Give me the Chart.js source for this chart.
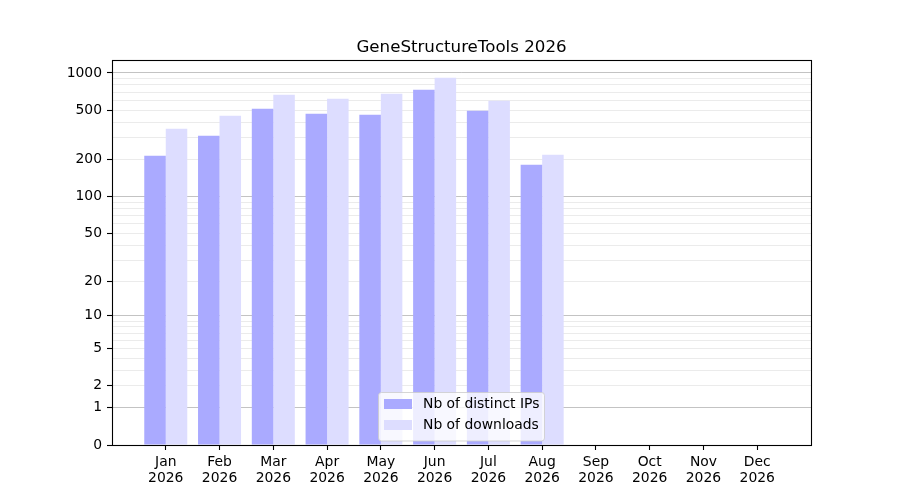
<!DOCTYPE html>
<html>
<head>
<meta charset="utf-8">
<script src="https://cdn.jsdelivr.net/npm/chart.js@4.4.1/dist/chart.umd.min.js"></script>
<style>
html,body{margin:0;padding:0;background:#fff;}
#wrap{width:900px;height:500px;}
</style>
</head>
<body>
<div id="wrap"><canvas id="c" width="900" height="500"></canvas></div>
<script>
// ---- data ----
const months = ['Jan','Feb','Mar','Apr','May','Jun','Jul','Aug','Sep','Oct','Nov','Dec'];
const year = '2026';
const distinctIPs = [214, 311, 514, 468, 460, 732, 495, 181];
const downloads   = [354, 451, 667, 619, 680, 915, 597, 218];
const yTickLabels = [0, 1, 2, 5, 10, 20, 50, 100, 200, 500, 1000];
const yMajorGrid  = [1, 10, 100, 1000];
const yMinorMultipliers = [2, 3, 4, 5, 6, 7, 8, 9];
const yMinorDecades = [1, 10, 100];
const yMax = 1273;
const chartTitle = 'GeneStructureTools 2026';
const seriesNames = ['Nb of distinct IPs', 'Nb of downloads'];

const yAllTicks = [0];
yMinorDecades.forEach(d => { yAllTicks.push(d); yMinorMultipliers.forEach(m => yAllTicks.push(m * d)); });
yAllTicks.push(1000);

// ---- log(1+x) scale ----
class Log1pScale extends Chart.LinearScale {
  buildTicks() { return yAllTicks.map(v => ({ value: v })); }
  configure() {
    super.configure();
    this._tStart = Math.log10(1 + this.min);
    this._tRange = Math.log10(1 + this.max) - this._tStart;
  }
  getPixelForValue(v) {
    return this.getPixelForDecimal((Math.log10(1 + v) - this._tStart) / this._tRange);
  }
  getValueForPixel(p) {
    return Math.pow(10, this._tStart + this.getDecimalForPixel(p) * this._tRange) - 1;
  }
}
Log1pScale.id = 'log1p';
Log1pScale.defaults = {};
Chart.register(Log1pScale);

Chart.defaults.font.family = 'DejaVu Sans';
Chart.defaults.font.size = 13.9;
Chart.defaults.color = '#000';

const frame = {
  id: 'frame',
  afterDraw(chart) {
    const ctx = chart.ctx, a = chart.chartArea;
    ctx.save();
    ctx.strokeStyle = '#000';
    ctx.lineWidth = 1.1;
    ctx.strokeRect(Math.round(a.left) + 0.5, Math.round(a.top) + 0.5,
                   Math.round(a.right - a.left), Math.round(a.bottom - a.top));
    // legend
    const bx = 378.5, by = 392.5, bw = 166, bh = 48.5;
    ctx.fillStyle = 'rgba(255,255,255,0.8)';
    ctx.strokeStyle = 'rgba(204,204,204,0.8)';
    ctx.lineWidth = 1;
    ctx.beginPath();
    ctx.roundRect(bx, by, bw, bh, 3);
    ctx.fill(); ctx.stroke();
    ctx.font = '13.9px "DejaVu Sans"';
    ctx.textBaseline = 'middle';
    ctx.textAlign = 'left';
    chart.data.datasets.forEach((ds, i) => {
      const rowY = 404 + i * 21;
      ctx.fillStyle = ds.backgroundColor;
      ctx.fillRect(384, rowY - 5, 28, 10);
      ctx.fillStyle = '#000';
      ctx.fillText(ds.label, 423, rowY);
    });
    ctx.restore();
  }
};

new Chart(document.getElementById('c'), {
  type: 'bar',
  data: {
    datasets: [
      { label: seriesNames[0], data: distinctIPs.map((v, i) => ({ x: i, y: v })), backgroundColor: '#aaaaff', categoryPercentage: 0.8, barPercentage: 1.0 },
      { label: seriesNames[1], data: downloads.map((v, i) => ({ x: i, y: v })), backgroundColor: '#ddddff', categoryPercentage: 0.8, barPercentage: 1.0 }
    ]
  },
  options: {
    responsive: false,
    animation: false,
    devicePixelRatio: 1,
    layout: { padding: { left: 0, right: 89, top: 38, bottom: 0 } },
    plugins: {
      legend: { display: false },
      tooltip: { enabled: false },
      title: { display: true, fullSize: false, text: chartTitle, font: { size: 16.67, weight: 'normal' }, color: '#000', padding: { top: 0, bottom: 2 } }
    },
    scales: {
      x: {
        type: 'linear',
        min: -1, max: 12,
        offset: false,
        grid: {
          offset: false,
          drawOnChartArea: false, drawTicks: true, tickLength: 5, tickWidth: 1.1,
          tickColor: c => (c.tick && c.tick.value >= 0 && c.tick.value < months.length) ? '#000' : 'rgba(0,0,0,0)'
        },
        border: { display: false },
        ticks: {
          stepSize: 1, autoSkip: false, maxRotation: 0, padding: 4,
          font: { size: 13.9, lineHeight: 1.15 },
          callback: v => (v >= 0 && v < months.length) ? [months[v], year] : ''
        },
        afterFit: s => { s.height = 55; }
      },
      y: {
        type: 'log1p',
        min: 0, max: yMax,
        z: 1,
        grid: {
          drawTicks: true, tickLength: 5, tickWidth: 1.1,
          color: c => {
            const v = c.tick ? c.tick.value : null;
            if (v === 0) return 'rgba(0,0,0,0)';
            return yMajorGrid.includes(v) ? 'rgba(128,128,128,0.47)' : 'rgba(128,128,128,0.16)';
          },
          lineWidth: 1,
          tickColor: c => (c.tick && yTickLabels.includes(c.tick.value)) ? '#000' : 'rgba(0,0,0,0)'
        },
        border: { display: false },
        ticks: {
          autoSkip: false, padding: 5,
          callback: v => yTickLabels.includes(v) ? String(v) : ''
        },
        afterFit: s => { s.width = 112; }
      }
    }
  },
  plugins: [frame]
});
</script>
</body>
</html>
